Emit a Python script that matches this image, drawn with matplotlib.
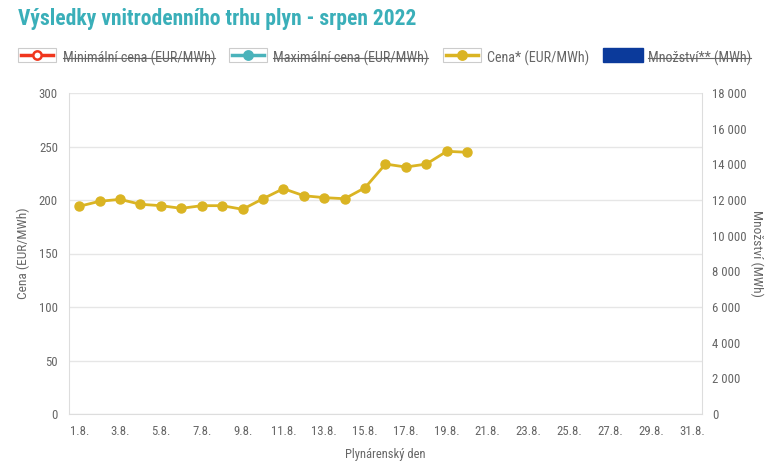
import numpy as np
import matplotlib
matplotlib.use("Agg")
import matplotlib.pyplot as plt
from matplotlib.lines import Line2D
from matplotlib.patches import Rectangle

plt.rcParams['font.family'] = ['Roboto Condensed', 'DejaVu Sans']

# data
days = ["%d.8." % d for d in range(1, 32)]
cena = [194.1, 198.8, 200.6, 196.0, 194.7, 192.2, 194.7, 194.7, 191.3, 201.2,
        210.6, 204.0, 202.2, 201.2, 211.5, 233.6, 230.8, 233.6, 245.5, 244.6]
legend_labels = ["Minimální cena (EUR/MWh)", "Maximální cena (EUR/MWh)",
                 "Cena* (EUR/MWh)", "Množství** (MWh)"]
left_ticks = [0, 50, 100, 150, 200, 250, 300]
right_ticks = [0, 2000, 4000, 6000, 8000, 10000, 12000, 14000, 16000, 18000]

gold = '#DAB423'
grey_txt = '#666666'
grid_c = '#e6e6e6'
W, H = 780, 468

fig = plt.figure(figsize=(7.8, 4.68), dpi=100)
ax = fig.add_axes([69/W, 1-414/H, (702-69)/W, (414-93)/H])
x = np.arange(len(days))
ax.plot(x[:len(cena)], cena, color=gold, lw=2, marker='o', ms=6.5, zorder=3)
ax.set_xlim(-0.5, len(days) - 0.5)
ax.set_ylim(0, 300)
ax.set_yticks(left_ticks)
ax.set_xticks(x[::2])
ax.set_xticklabels(days[::2])
ax.grid(axis='y', color=grid_c, lw=1)
ax.set_axisbelow(True)
ax.spines['top'].set_visible(False)
for s in ['left', 'bottom', 'right']:
    ax.spines[s].set_color('#dddddd')
ax.tick_params(axis='both', colors=grey_txt, labelsize=9.2, length=0, pad=8)
ax.set_ylabel("Cena (EUR/MWh)", color=grey_txt, fontsize=9.6, labelpad=6)
ax.set_xlabel("Plynárenský den", color=grey_txt, fontsize=9, labelpad=7)

ax2 = ax.twinx()
ax2.set_ylim(0, 18000)
ax2.set_yticks(right_ticks)
ax2.set_yticklabels([("%d" % v) if v < 1000 else ("%d %03d" % (v // 1000, v % 1000)) for v in right_ticks])
for s in ax2.spines.values():
    s.set_visible(False)
ax2.tick_params(axis='y', colors=grey_txt, labelsize=9.2, length=0, pad=7.5)
ax2.set_ylabel("Množství (MWh)", color=grey_txt, fontsize=9.6, rotation=270, labelpad=12)

fig.text(18/W, 1-19.5/H, "Výsledky vnitrodenního trhu plyn - srpen 2022",
         color='#3AAFB9', fontsize=15.5, fontweight='bold', va='center', ha='left')

# legend built by hand
ly = 55
items = [(18, 63, 'red'), (229, 273, 'teal'), (443, 487, 'gold'), (603, 648, 'blue')]
texts = []
for (bx, tx, kind), lab in zip(items, legend_labels):
    w = 38
    if kind == 'blue':
        w = 40
        fig.patches.append(Rectangle((bx/W, 1-(ly+7)/H), w/W, 14/H,
                                     transform=fig.transFigure, facecolor='#0b3a9b',
                                     edgecolor='#0b3a9b'))
    else:
        fig.patches.append(Rectangle((bx/W, 1-(ly+7)/H), w/W, 14/H,
                                     transform=fig.transFigure, facecolor='white',
                                     edgecolor='#cccccc', lw=0.8))
        col = {'red': '#F0361D', 'teal': '#4AB3BB', 'gold': gold}[kind]
        mfc = 'white' if kind == 'red' else col
        fig.lines.append(Line2D([(bx+3)/W, (bx+w-3)/W], [1-ly/H]*2,
                                transform=fig.transFigure, color=col, lw=2.5))
        fig.lines.append(Line2D([(bx+w/2)/W], [1-ly/H], transform=fig.transFigure,
                                marker='o', ms=6, color=col, mfc=mfc, mew=1.8))
    t = fig.text(tx/W, 1-58/H, lab, color=grey_txt, fontsize=10.2, va='center', ha='left')
    texts.append((t, kind != 'gold'))

fig.canvas.draw()
r = fig.canvas.get_renderer()
for t, strike in texts:
    if strike:
        bb = t.get_window_extent(r)
        ymid = (bb.y0 + bb.y1) / 2 / fig.bbox.height
        fig.lines.append(Line2D([bb.x0 / fig.bbox.width, bb.x1 / fig.bbox.width], [ymid, ymid],
                                transform=fig.transFigure, color=grey_txt, lw=0.8))

fig.savefig("out.png", dpi=100)
